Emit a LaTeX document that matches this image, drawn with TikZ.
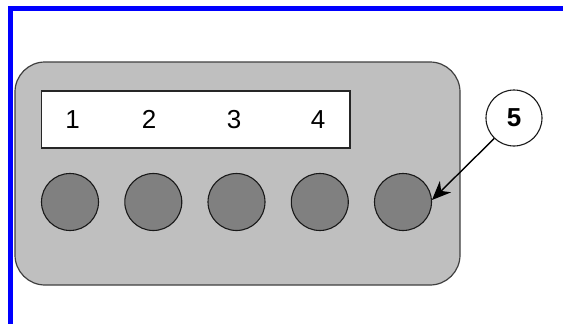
\documentclass[tikz,border=0pt]{standalone}
\usepackage{fontspec}
\setmainfont{Liberation Sans}
\usetikzlibrary{arrows.meta}
\begin{document}
\begin{tikzpicture}[x=1pt,y=1pt,
  panel/.style={draw=black!75,fill=black!25,line width=1.2pt,rounded corners=30pt},
  display/.style={draw=black!85,fill=white,line width=1.5pt},
  knob/.style={circle,draw=black!90,fill=black!50,line width=1.1pt,minimum size=57pt,inner sep=0pt},
  callout/.style={circle,draw=black!90,fill=white,line width=1.1pt,minimum size=56pt,inner sep=0pt,font=\fontsize{26}{28}\selectfont\bfseries},
  digit/.style={font=\fontsize{26}{28}\selectfont,inner sep=0pt,anchor=base},
  pointer/.style={-{Stealth[length=19pt,width=16pt]},line width=1.4pt}]
\useasboundingbox (0,0) rectangle (563,-324);
\fill[white] (0,0) rectangle (563,-324);
\draw[blue,line width=5pt] (10.5,-324) -- (10.5,-8.5) -- (563,-8.5);
\draw[panel] (15,-62) rectangle (460,-285);
\draw[display] (41.5,-91) rectangle (350,-148);
\node[digit] (d1) at (72.5,-128.5) {1};
\node[digit] (d2) at (149,-128.5) {2};
\node[digit] (d3) at (234,-128.5) {3};
\node[digit] (d4) at (318,-128.5) {4};
\node[knob] (c1) at (70,-202) {};
\node[knob] (c2) at (153.3,-202) {};
\node[knob] (c3) at (236.5,-202) {};
\node[knob] (c4) at (319.8,-202) {};
\node[knob] (c5) at (403,-202) {};
\node[callout] (n5) at (514,-118) {5};
\draw[pointer] (n5.226) -- (c5.4);
\end{tikzpicture}
\end{document}
